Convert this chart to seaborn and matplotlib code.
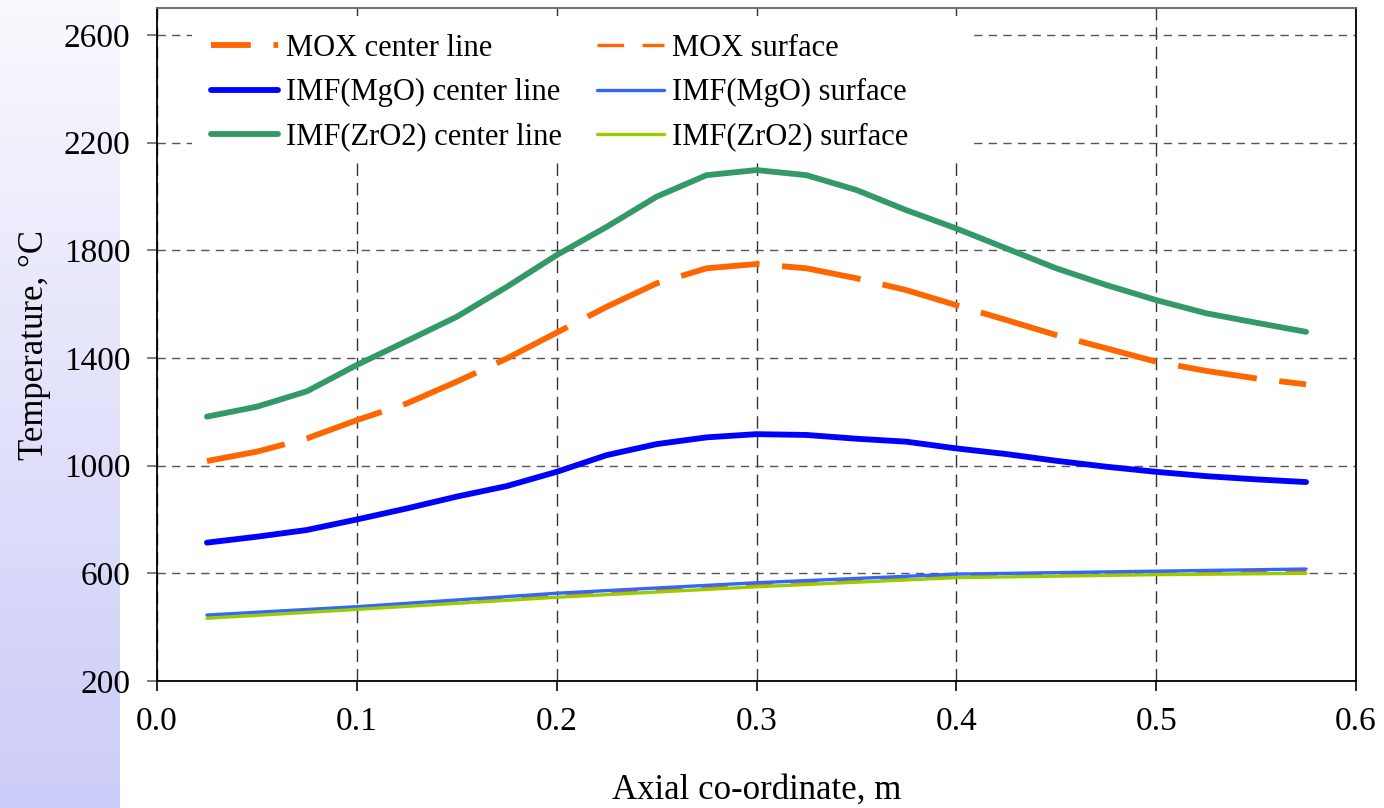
import numpy as np
import pandas as pd
import matplotlib
matplotlib.use("Agg")
import matplotlib.pyplot as plt
from matplotlib.lines import Line2D
from matplotlib.patches import Rectangle
import seaborn as sns

# Axial positions of the centre-line results (m)
x_center = [0.025, 0.05, 0.075, 0.1, 0.125, 0.15, 0.175, 0.2, 0.225, 0.25, 0.275, 0.3,
            0.325, 0.35, 0.375, 0.4, 0.425, 0.45, 0.475, 0.5, 0.525, 0.55, 0.575]

# Centre-line temperatures (°C)
mox_center = [1017, 1052, 1101, 1169, 1231, 1312, 1398, 1494, 1590, 1677, 1733, 1749,
              1733, 1696, 1652, 1596, 1541, 1485, 1436, 1386, 1352, 1324, 1302]
mgo_center = [714, 736, 761, 800, 841, 885, 924, 977, 1039, 1080, 1105, 1117,
              1114, 1100, 1089, 1064, 1043, 1018, 996, 977, 961, 949, 939]
zro2_center = [1182, 1219, 1276, 1374, 1463, 1553, 1664, 1782, 1887, 1999, 2079, 2098,
               2079, 2024, 1949, 1881, 1807, 1733, 1671, 1615, 1566, 1531, 1497]

# Axial positions of the surface results (m)
x_surface = [0.025, 0.1, 0.2, 0.3, 0.4, 0.5, 0.575]

# Surface temperatures (°C)
mox_surface = [438, 471, 518, 557, 589, 601, 607]
mgo_surface = [445, 476, 526, 565, 597, 608, 616]
zro2_surface = [433, 466, 511, 550, 584, 595, 600]

series_labels = ["MOX center line", "MOX surface",
                 "IMF(MgO) center line", "IMF(MgO) surface",
                 "IMF(ZrO2) center line", "IMF(ZrO2) surface"]
x_ticks = [0.0, 0.1, 0.2, 0.3, 0.4, 0.5, 0.6]
y_ticks = [200, 600, 1000, 1400, 1800, 2200, 2600]

sns.set_theme(style="white")
plt.rcParams["font.family"] = ["Liberation Serif", "DejaVu Serif"]
for key in ["text.color", "axes.labelcolor", "xtick.color", "ytick.color"]:
    plt.rcParams[key] = "black"

W, H = 1384, 808
fig = plt.figure(figsize=(W / 100, H / 100), dpi=100)
fig.patch.set_facecolor("white")

# Lavender band on the left edge, fading towards the top
band = fig.add_axes([0, 0, 120 / W, 1], zorder=-5)
grad = np.linspace(0, 1, 256).reshape(-1, 1)
top_c = np.array([0.975, 0.975, 0.995])
bot_c = np.array([0.80, 0.80, 0.975])
img = top_c[None, None, :] * (1 - grad[..., None]) + bot_c[None, None, :] * grad[..., None]
band.imshow(img, aspect="auto", extent=[0, 1, 0, 1], origin="upper")
band.set_axis_off()

ax = fig.add_axes([157 / W, 1 - 681 / H, (1356 - 157) / W, (681 - 8) / H])
ax.set_facecolor("white")

THICK, THIN = 4.2, 2.4
mox_dash = (15.5 * 3.7 / THICK, 4.4 * 3.7 / THICK)
styles = [
    ("#FF6600", THICK, (0, mox_dash)),
    ("#FF6600", THIN, (0, (8, 5.5))),
    ("#0000FF", THICK, "-"),
    ("#3366FF", THIN, "-"),
    ("#339966", THICK, "-"),
    ("#99CC00", THIN, "-"),
]
data = [(x_center, mox_center), (x_surface, mox_surface),
        (x_center, mgo_center), (x_surface, mgo_surface),
        (x_center, zro2_center), (x_surface, zro2_surface)]

for (xs, ys), lab, (col, lw, ls) in zip(data, series_labels, styles):
    df = pd.DataFrame({"x": xs, "T": ys})
    sns.lineplot(data=df, x="x", y="T", ax=ax, color=col, linewidth=lw,
                 legend=False, solid_capstyle="round", solid_joinstyle="round",
                 dash_capstyle="butt", dash_joinstyle="round", zorder=3)
    ax.lines[-1].set_linestyle(ls)

ax.set_xlim(0, 0.6)
ax.set_ylim(200, 2700)
ax.set_xticks(x_ticks)
ax.set_yticks(y_ticks)
ax.set_xticklabels([f"{v:.1f}" for v in x_ticks], fontsize=24)
ax.set_yticklabels([str(v) for v in y_ticks], fontsize=24)

ax.xaxis.grid(True, color="#333333", linestyle=(0, (9, 5)), linewidth=1.0)
ax.yaxis.grid(True, color="#555555", linestyle=(0, (6, 4.5)), linewidth=1.0)
ax.set_axisbelow(True)

ax.tick_params(axis="y", direction="out", length=7, width=1.2, color="#666666", pad=12, left=True)
ax.tick_params(axis="x", direction="out", length=7, width=1.2, color="black", pad=11, bottom=True)

for side in ["left", "bottom", "right"]:
    ax.spines[side].set_color("black")
    ax.spines[side].set_linewidth(1.3)
ax.spines["top"].set_color("#666666")
ax.spines["top"].set_linewidth(1.3)

ax.set_xlabel("Axial co-ordinate, m", fontsize=25, labelpad=27)
ax.set_ylabel("Temperature, °C", fontsize=25, labelpad=9)

# White panel behind the legend, hiding the grid there
ax.add_patch(Rectangle((192 / W, 1 - 158 / H), (970 - 192) / W, (158 - 16) / H,
                       transform=fig.transFigure, facecolor="white",
                       edgecolor="none", zorder=1.5))

# Legend entries; the dashed centre-line sample starts part way into a dash
legend_styles = list(styles)
legend_styles[0] = ("#FF6600", THICK, (mox_dash[0] * 0.5, mox_dash))
handles = [Line2D([], [], color=c, lw=lw, linestyle=ls, solid_capstyle="round",
                  dash_capstyle="butt") for c, lw, ls in legend_styles]
order = [0, 2, 4, 1, 3, 5]
leg = ax.legend([handles[i] for i in order], [series_labels[i] for i in order],
                ncol=2, loc="upper left",
                bbox_to_anchor=(211 / W, 1 - 34 / H), bbox_transform=fig.transFigure,
                fontsize=22, frameon=False, handlelength=2.2, handletextpad=0.25,
                columnspacing=1.15, labelspacing=0.5, borderpad=0, borderaxespad=0)
leg.set_zorder(5)

fig.savefig("out.png", dpi=100, facecolor="white")
